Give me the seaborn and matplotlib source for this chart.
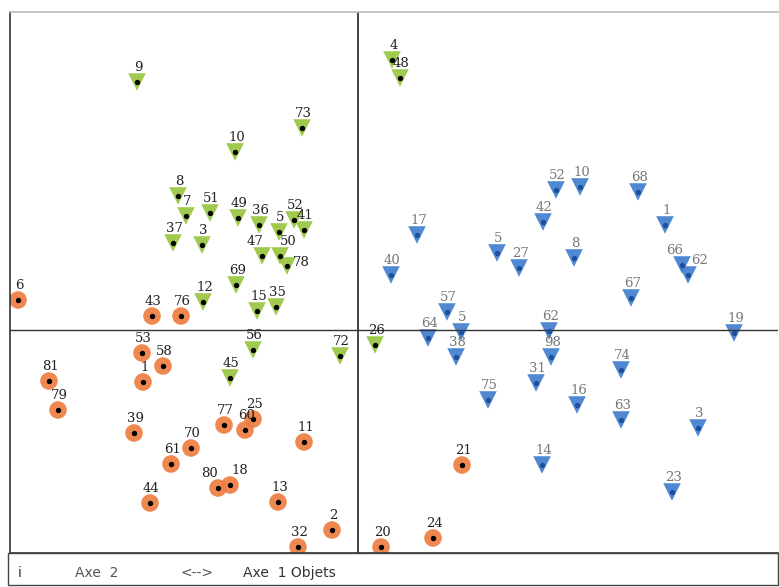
import matplotlib
matplotlib.use("Agg")
import matplotlib.pyplot as plt
import seaborn as sns
import pandas as pd

# points (x = axe 1, y = axe 2)
green_lab = ["9", "73", "10", "8", "7", "51", "49", "36", "5", "52", "41", "37", "3",
             "47", "50", "78", "69", "12", "15", "35", "56", "45", "72", "26", "4", "48"]
green_x = [-2.21, -0.56, -1.23, -1.80, -1.72, -1.48, -1.20, -0.99, -0.79, -0.64, -0.54, -1.85, -1.56,
           -0.96, -0.78, -0.71, -1.22, -1.55, -1.01, -0.82, -1.05, -1.28, -0.18, 0.17, 0.34, 0.42]
green_y = [2.48, 2.02, 1.78, 1.34, 1.14, 1.17, 1.12, 1.05, 0.98, 1.10, 1.00, 0.87, 0.85,
           0.74, 0.74, 0.64, 0.45, 0.28, 0.19, 0.23, -0.20, -0.48, -0.26, -0.15, 2.70, 2.52]

orange_lab = ["6", "43", "76", "53", "58", "81", "1", "79", "39", "77", "60", "25", "11",
              "70", "61", "80", "18", "44", "13", "2", "32", "20", "24", "21"]
orange_x = [-3.40, -2.06, -1.77, -2.16, -1.95, -3.09, -2.15, -3.00, -2.24, -1.34, -1.13, -1.05, -0.54,
            -1.67, -1.87, -1.40, -1.28, -2.08, -0.80, -0.26, -0.60, 0.23, 0.75, 1.04]
orange_y = [0.30, 0.14, 0.14, -0.23, -0.36, -0.51, -0.52, -0.80, -1.03, -0.95, -1.00, -0.89, -1.12,
            -1.18, -1.34, -1.58, -1.55, -1.73, -1.72, -2.00, -2.17, -2.17, -2.08, -1.35]

blue_lab = ["52", "10", "68", "42", "1", "17", "40", "5", "27", "8", "66", "62", "67",
            "57", "64", "5", "62", "19", "38", "98", "74", "31", "75", "16", "63", "3", "14", "23"]
blue_x = [1.98, 2.22, 2.80, 1.85, 3.07, 0.59, 0.33, 1.39, 1.61, 2.16, 3.24, 3.30, 2.73,
          0.89, 0.70, 1.03, 1.91, 3.76, 0.98, 1.93, 2.63, 1.78, 1.30, 2.19, 2.63, 3.40, 1.84, 3.14]
blue_y = [1.40, 1.43, 1.38, 1.08, 1.05, 0.95, 0.55, 0.77, 0.62, 0.72, 0.65, 0.55, 0.32,
          0.18, -0.08, -0.02, -0.01, -0.03, -0.27, -0.27, -0.40, -0.53, -0.70, -0.75, -0.90, -0.98, -1.35, -1.62]

df = pd.concat([
    pd.DataFrame({"x": green_x, "y": green_y, "lab": green_lab, "grp": "g"}),
    pd.DataFrame({"x": orange_x, "y": orange_y, "lab": orange_lab, "grp": "o"}),
    pd.DataFrame({"x": blue_x, "y": blue_y, "lab": blue_lab, "grp": "b"}),
], ignore_index=True)

pal = {"g": "#95c43c", "o": "#ee7a3e", "b": "#3d7ccc"}
marks = {"g": "v", "o": "o", "b": "v"}

# label nudges (points) where labels crowd each other
nudge = {("g", "47"): (-5, 6), ("g", "50"): (6, 6), ("g", "78"): (10, -2),
         ("o", "80"): (-6, 6), ("o", "18"): (7, 6),
         ("b", "66"): (-5, 6), ("b", "62"): (8, 6)}

sns.set_style("white")
fig = plt.figure(figsize=(7.79, 5.87), dpi=100)
ax = fig.add_axes([10 / 779, 34 / 587, 768 / 779, 541 / 587])

sns.scatterplot(data=df, x="x", y="y", hue="grp", style="grp", palette=pal, markers=marks,
                s=160, alpha=0.9, edgecolor="none", legend=False, ax=ax)
dots = df[df.grp != "b"]
ax.scatter(dots.x, dots.y, s=8, color="black", zorder=3)
bd = df[df.grp == "b"]
ax.scatter(bd.x, bd.y, s=8, color="#1f4f9a", zorder=3)

for _, r in df.iterrows():
    c = "#222222" if r.grp != "b" else "#777777"
    off = nudge.get((r.grp, r.lab), (1, 6))
    if r.grp == "b" and r.lab == "62" and r.y < 0.2:
        off = (1, 6)
    ax.annotate(r.lab, (r.x, r.y), xytext=off, textcoords="offset points",
                ha="center", va="bottom", fontsize=9.5, color=c, family="DejaVu Serif")

ax.set_xlim(-3.48, 4.20)
ax.set_ylim(-2.23, 3.18)
ax.axhline(0, color="#333333", lw=1)
ax.axvline(0, color="#333333", lw=1.3)
ax.set_xticks([])
ax.set_yticks([])
ax.set_xlabel("")
ax.set_ylabel("")
for s in ax.spines.values():
    s.set_color("#333333")
    s.set_linewidth(1.2)
ax.spines["top"].set_color("#bbbbbb")
ax.spines["right"].set_visible(False)

# bottom caption box
box = plt.Rectangle((8 / 779, 2 / 587), 770 / 779, 32 / 587, transform=fig.transFigure,
                    fill=False, edgecolor="#444444", lw=1)
fig.add_artist(box)
fig.text(18 / 779, 10 / 587, "i", fontsize=10, color="#333333")
fig.text(75 / 779, 10 / 587, "Axe  2", fontsize=10, color="#555555")
fig.text(180 / 779, 10 / 587, "<-->", fontsize=10, color="#555555")
fig.text(243 / 779, 10 / 587, "Axe  1 Objets", fontsize=10, color="#333333")

fig.savefig("out.png", dpi=100)
